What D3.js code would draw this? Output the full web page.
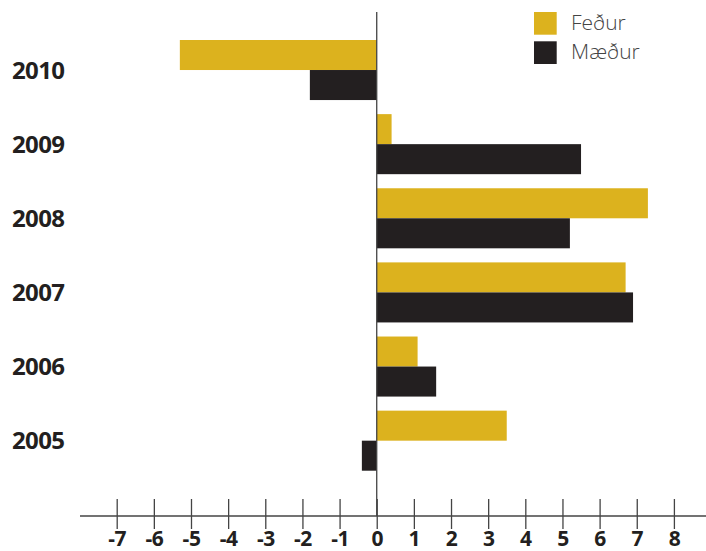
<!DOCTYPE html>
<html><head><meta charset="utf-8">
<script src="https://cdn.jsdelivr.net/npm/d3@7"></script>
<style>body{margin:0;background:#fff}svg{display:block}</style>
</head><body>
<svg id="c" width="706" height="551"></svg>
<script>
const years = ["2010","2009","2008","2007","2006","2005"];
const fathers = [-5.3, 0.4, 7.3, 6.7, 1.1, 3.5];
const mothers = [-1.8, 5.5, 5.2, 6.9, 1.6, -0.4];
const seriesNames = ["Feður","Mæður"];
const seriesColors = ["#dcb21e","#231f20"];
const xTicks = [-7,-6,-5,-4,-3,-2,-1,0,1,2,3,4,5,6,7,8];

const svg = d3.select("#c");
const x = d3.scaleLinear().domain([-7,8]).range([116.7,673.9]);
const y = d3.scaleBand().domain(years).range([40,470.7]).paddingInner(0.19).paddingOuter(0);
const sub = d3.scaleBand().domain(seriesNames).range([0,y.bandwidth()]);
const axisY = 516;

const data = years.map((yr,i)=>({yr, vals:[fathers[i],mothers[i]]}));

const g = svg.append("g");
data.forEach(d=>{
  d.vals.forEach((v,j)=>{
    g.append("rect")
      .attr("x", x(Math.min(0,v)))
      .attr("y", y(d.yr)+sub(seriesNames[j]))
      .attr("width", Math.abs(x(v)-x(0)))
      .attr("height", sub.bandwidth())
      .attr("fill", seriesColors[j]);
  });
});

// zero line
svg.append("line").attr("x1",x(0)).attr("x2",x(0)).attr("y1",12).attr("y2",axisY)
  .attr("stroke","#444").attr("stroke-width",1.3);

// x axis
const axis = d3.axisBottom(x).tickValues(xTicks).tickSize(0).tickFormat(d=>String(d));
const ax = svg.append("g").attr("transform",`translate(0,${axisY})`).call(axis);
ax.select(".domain").remove();
ax.selectAll(".tick line").remove();
ax.selectAll(".tick").append("line").attr("y1",-17).attr("y2",13).attr("stroke","#444").attr("stroke-width",1.3);
ax.selectAll(".tick text").attr("y",30).attr("dy",0)
  .attr("font-family","'Open Sans', sans-serif").attr("font-weight","bold")
  .attr("font-size",21).attr("fill","#231f20").style("letter-spacing","-0.5px");
svg.append("line").attr("x1",80).attr("x2",706).attr("y1",axisY).attr("y2",axisY)
  .attr("stroke","#444").attr("stroke-width",1.3);

// year labels
svg.append("g").selectAll("text").data(years).join("text")
  .attr("x",12).attr("y",d=>y(d)+y.bandwidth()/2+8.8)
  .attr("font-family","'Open Sans', sans-serif").attr("font-weight","bold")
  .attr("font-size",24).attr("fill","#231f20").style("letter-spacing","-0.6px")
  .text(d=>d);

// legend
const lg = svg.append("g");
seriesNames.forEach((n,i)=>{
  lg.append("rect").attr("x",534).attr("y",12+i*29.3).attr("width",22.7).attr("height",22.7).attr("fill",seriesColors[i]);
  lg.append("text").attr("x",571).attr("y",30+i*29.3)
    .attr("font-family","'Open Sans', sans-serif").attr("font-weight",300)
    .attr("font-size",21).attr("fill","#444").text(n);
});
</script>
</body></html>
